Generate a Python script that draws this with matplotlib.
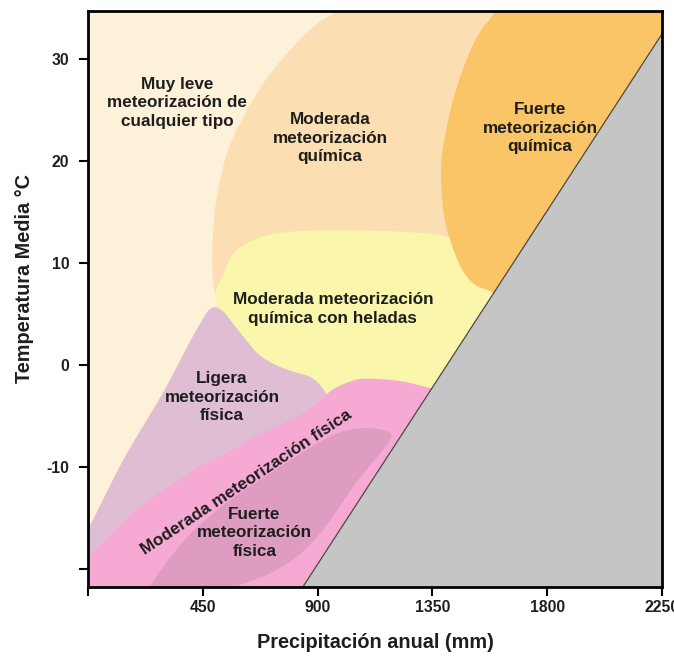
import numpy as np
import matplotlib.pyplot as plt
from matplotlib import font_manager

# Diagrama de meteorizacion (tipo Peltier): contornos estimados de la figura original
# x = precipitacion anual (mm), y = temperatura media (C)

# Fondo: muy leve meteorizacion de cualquier tipo
# Moderada meteorizacion quimica
quim_mod_x = [1007, 976, 880, 791, 700, 622, 560, 528, 500, 489, 485, 497, 600, 1300, 1700, 2300, 2300]
quim_mod_y = [36, 34.7, 33.2, 30.9, 28.2, 25.0, 22.0, 19.4, 16.0, 12.9, 9.5, 6.4, 5, 5, 10, 20, 36]

# Moderada meteorizacion quimica con heladas
heladas_x = [497, 508, 528, 556, 595, 685, 830, 1066, 1301, 1407, 1500, 1650, 1750, 1500, 1100,
             987, 830, 752, 674, 617, 556, 513]
heladas_y = [6.7, 7.8, 8.6, 10.5, 11.6, 12.7, 13.2, 13.2, 13.0, 12.6, 12.0, 8.0, 6.0, -8, -4,
             -2.3, -3.1, -2.3, -1.0, 0.8, 3.1, 4.9]

# Fuerte meteorizacion quimica
quim_fuerte_x = [1615, 2300, 2300, 1700, 1620, 1568, 1525, 1470, 1431, 1392, 1380, 1399, 1446, 1525, 1603]
quim_fuerte_y = [36, 36, 30, 5, 6.5, 7.4, 7.6, 9.0, 11.3, 14.5, 19.4, 22.7, 27.6, 32.5, 34.7]

# Ligera meteorizacion fisica
fis_ligera_x = [497, 430, 368, 301, 223, 144, 77, 26, -1, -60, -60, 1000, 1000, 700, 600]
fis_ligera_y = [6.4, 3.7, 0.8, -2.5, -5.7, -9.0, -12.3, -14.9, -16.2, -17.5, -25, -25, -2.0, 0, 3]

# Moderada meteorizacion fisica
fis_mod_x = [-60, -1, 117, 250, 379, 426, 576, 622, 752, 830, 882, 948, 1027, 1078, 1211, 1301, 1340,
             1450, 1200, -60]
fis_mod_y = [-20.0, -19.0, -15.8, -13.0, -11.0, -10.0, -8.3, -7.4, -5.9, -4.9, -4.2, -2.5, -1.6, -1.3,
             -1.5, -2.0, -2.3, -3.0, -25, -25]

# Fuerte meteorizacion fisica
fis_fuerte_x = [180, 242, 293, 399, 556, 752, 960, 1078, 1172, 1199, 1144, 1066, 987, 902, 811, 693, 556, 438]
fis_fuerte_y = [-24, -21.8, -19.8, -16.5, -13.2, -10.0, -6.7, -6.1, -6.4, -6.9, -8.8, -11.0, -13.9,
                -16.9, -19.1, -20.8, -21.9, -23.5]

# Limite de la zona sin datos (triangulo gris)
limite_x = [785, 2300]
limite_y = [-24.0, 34.4]

etiquetas = [
    ('Muy leve\nmeteorización de\ncualquier tipo', 349, 25.7, 0),
    ('Moderada\nmeteorización\nquímica', 949, 22.25, 0),
    ('Fuerte\nmeteorización\nquímica', 1772, 23.2, 0),
    ('Moderada meteorización\nquímica con heladas', 960, 5.5, 0),
    ('Ligera\nmeteorización\nfísica', 525, -3.2, 0),
    ('Moderada meteorización física', 620, -11.5, 33.6),
    ('Fuerte\nmeteorización\nfísica', 652, -16.5, 0),
]

x_ticks = [0, 450, 900, 1350, 1800, 2250]
x_labels = ['', '450', '900', '1350', '1800', '2250']
y_ticks = [-20, -10, 0, 10, 20, 30]
y_labels = ['', '-10', '0', '10', '20', '30']

# fuente estrecha si existe; si no, Liberation Sans algo mas pequena
nombres = {f.name for f in font_manager.fontManager.ttflist}
if 'Liberation Sans Narrow' in nombres:
    fuente, esc = ['Liberation Sans Narrow', 'DejaVu Sans'], 1.1
elif 'Arial Narrow' in nombres:
    fuente, esc = ['Arial Narrow', 'DejaVu Sans'], 1.1
else:
    fuente, esc = ['Liberation Sans', 'DejaVu Sans'], 1.0


def suavizar(x, y, n=4):
    # suavizado de Chaikin para contornos cerrados
    pts = np.column_stack([x, y]).astype(float)
    for _ in range(n):
        sig = np.roll(pts, -1, axis=0)
        q = 0.75 * pts + 0.25 * sig
        r = 0.25 * pts + 0.75 * sig
        nuevo = np.empty((2 * len(pts), 2))
        nuevo[0::2] = q
        nuevo[1::2] = r
        pts = nuevo
    return pts[:, 0], pts[:, 1]


fig = plt.figure(figsize=(6.74, 6.58), dpi=100)
ax = fig.add_axes([0.1306, 0.108, 0.8516, 0.875])
ax.set_facecolor('#FEF1DA')

zonas = [
    (quim_mod_x, quim_mod_y, '#FBDFB2'),
    (heladas_x, heladas_y, '#FAF6AB'),
    (quim_fuerte_x, quim_fuerte_y, '#F9C566'),
    (fis_ligera_x, fis_ligera_y, '#DFBDD3'),
    (fis_mod_x, fis_mod_y, '#F6A9D3'),
    (fis_fuerte_x, fis_fuerte_y, '#DE9DC0'),
]
for zx, zy, color in zonas:
    sx, sy = suavizar(zx, zy)
    ax.fill(sx, sy, color=color, lw=0, zorder=1)

# zona gris a la derecha del limite
ax.fill([limite_x[0], limite_x[1], limite_x[1]], [limite_y[0], limite_y[1], limite_y[0]],
        color='#C5C5C5', lw=0, zorder=2)
ax.plot(limite_x, limite_y, color='#4a4a4a', lw=0.9, zorder=3)

for texto, tx, ty, rot in etiquetas:
    ax.text(tx, ty, texto, ha='center', va='center', rotation=rot, rotation_mode='anchor',
            fontsize=12.3 * esc, fontweight='bold', family=fuente,
            color='#1e1e1e', linespacing=1.3, zorder=4)

ax.set_xlim(0, 2250)
ax.set_ylim(-21.8, 34.7)
ax.set_xticks(x_ticks)
ax.set_xticklabels(x_labels)
ax.set_yticks(y_ticks)
ax.set_yticklabels(y_labels)
ax.tick_params(direction='out', length=6.5, width=1.5, labelsize=11.3 * esc)
ax.tick_params(axis='x', pad=3)
ax.tick_params(axis='y', pad=7)
for lab in ax.get_xticklabels() + ax.get_yticklabels():
    lab.set_fontweight('bold')
    lab.set_family(fuente)
    lab.set_color('#1e1e1e')
for sp in ax.spines.values():
    sp.set_linewidth(2)
    sp.set_zorder(5)

ax.set_xlabel('Precipitación anual (mm)', fontsize=14.3 * esc, fontweight='bold', family=fuente,
              labelpad=13, color='#1e1e1e')
ax.set_ylabel('Temperatura Media °C', fontsize=14.3 * esc, fontweight='bold', family=fuente,
              color='#1e1e1e')
ax.yaxis.set_label_coords(-0.094, 0.536)

fig.savefig('out.png', dpi=100)
